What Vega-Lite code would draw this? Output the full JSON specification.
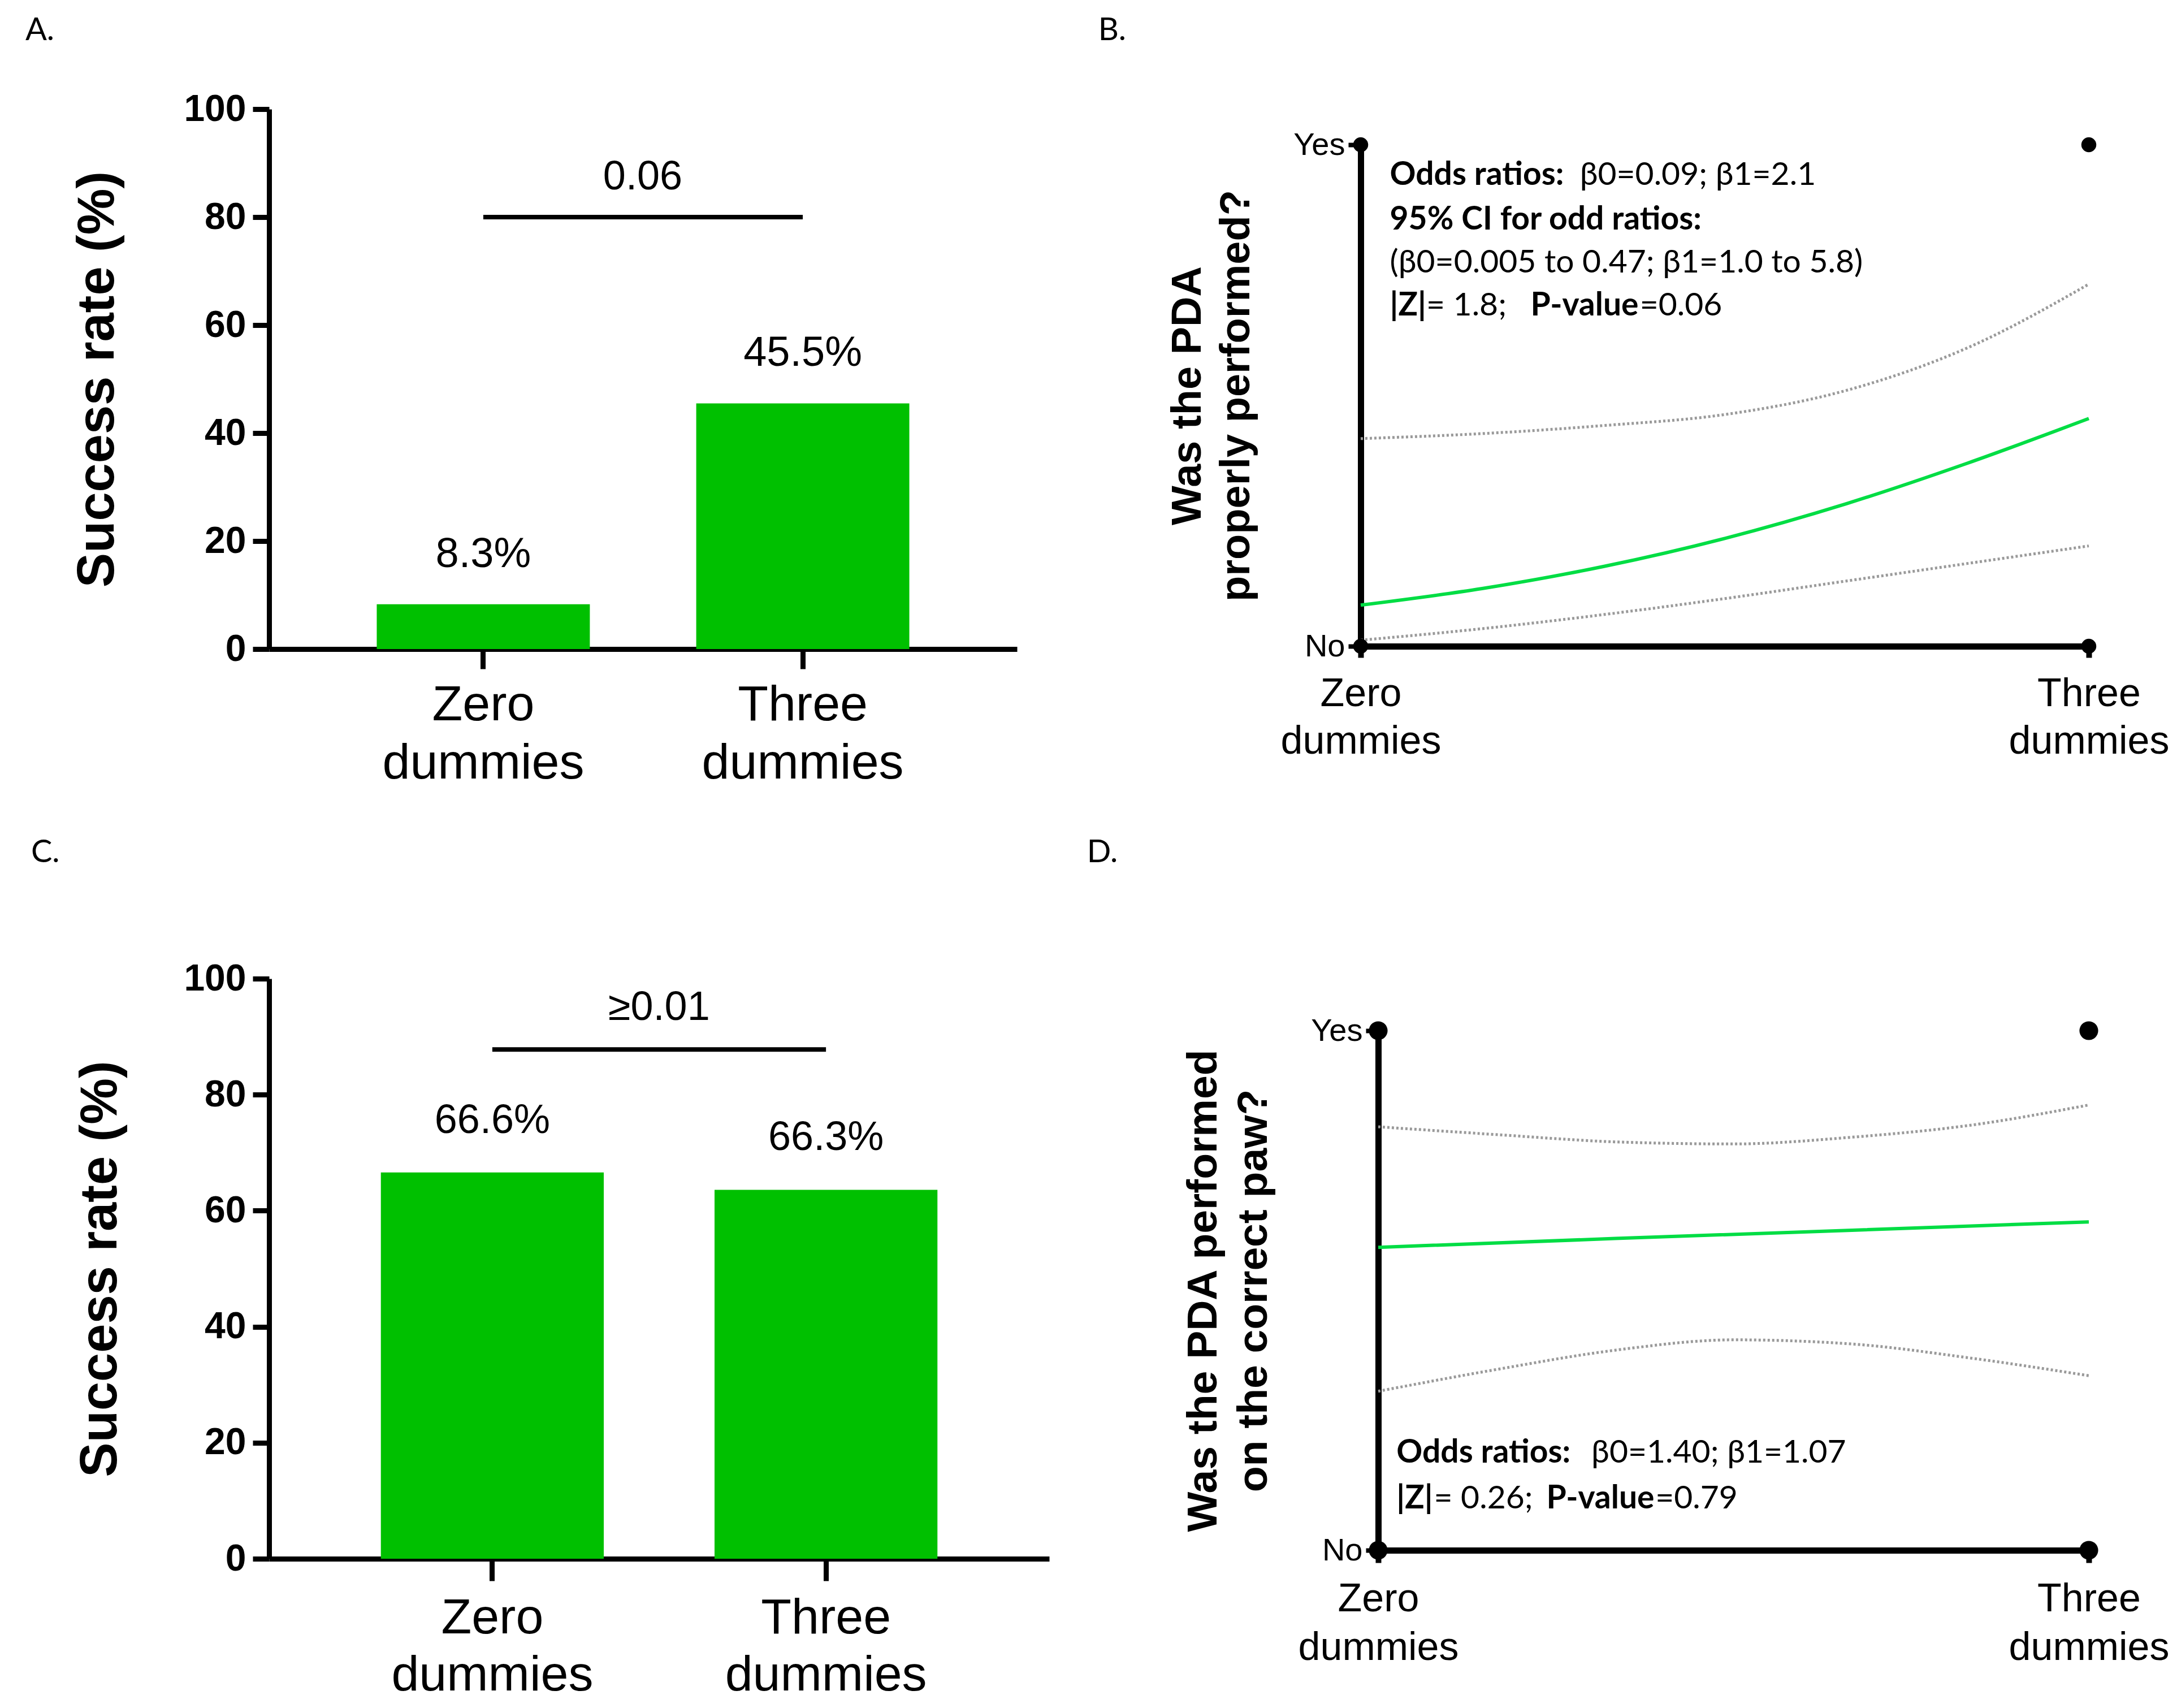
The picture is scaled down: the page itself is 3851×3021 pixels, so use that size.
{
  "$schema": "https://vega.github.io/schema/vega-lite/v6.json",
  "background": "white",
  "padding": {"left": 44, "top": 26, "right": 0, "bottom": 0},
  "config": {
    "view": {"stroke": null},
    "axis": {"grid": false, "domainColor": "black", "tickColor": "black", "labelColor": "black", "titleColor": "black", "labelLimit": 0},
    "title": {"anchor": "start", "frame": "bounds", "font": "Lato", "fontSize": 56, "fontWeight": "normal", "color": "black"}
  },
  "datasets": {
    "barsA": [
      {"group": "Zero dummies", "rate": 8.3, "label": "8.3%"},
      {"group": "Three dummies", "rate": 45.5, "label": "45.5%"}
    ],
    "sigA": [{"from": "Zero dummies", "to": "Three dummies", "y": 80, "ylab": 87.4, "p": "0.06"}],
    "barsC": [
      {"group": "Zero dummies", "rate": 66.6, "label": "66.6%"},
      {"group": "Three dummies", "rate": 63.6, "label": "66.3%"}
    ],
    "sigC": [{"from": "Zero dummies", "to": "Three dummies", "y": 87.8, "ylab": 95.0, "p": "≥0.01"}],
    "ciB": [
      {"x": 0, "y": 0.414, "band": "upper"}, {"x": 0.5, "y": 0.424, "band": "upper"}, {"x": 1, "y": 0.44, "band": "upper"},
      {"x": 1.5, "y": 0.462, "band": "upper"}, {"x": 2, "y": 0.51, "band": "upper"}, {"x": 2.5, "y": 0.595, "band": "upper"},
      {"x": 3, "y": 0.722, "band": "upper"},
      {"x": 0, "y": 0.012, "band": "lower"}, {"x": 0.5, "y": 0.035, "band": "lower"}, {"x": 1, "y": 0.063, "band": "lower"},
      {"x": 1.5, "y": 0.095, "band": "lower"}, {"x": 2, "y": 0.13, "band": "lower"}, {"x": 2.5, "y": 0.165, "band": "lower"},
      {"x": 3, "y": 0.2, "band": "lower"}
    ],
    "fitB": [
      {"x": 0, "y": 0.082}, {"x": 0.5, "y": 0.115}, {"x": 1, "y": 0.159}, {"x": 1.5, "y": 0.215},
      {"x": 2, "y": 0.284}, {"x": 2.5, "y": 0.365}, {"x": 3, "y": 0.454}
    ],
    "ptsB": [{"x": 0, "y": 1}, {"x": 0, "y": 0}, {"x": 3, "y": 1}, {"x": 3, "y": 0}],
    "annB": [
      {"x": 0.12, "y": 0.939, "text": "Odds ratios:", "bold": true},
      {"x": 0.903, "y": 0.939, "text": "β0=0.09; β1=2.1", "bold": false},
      {"x": 0.12, "y": 0.85, "text": "95% CI for odd ratios:", "bold": true},
      {"x": 0.12, "y": 0.764, "text": "(β0=0.005 to 0.47; β1=1.0 to 5.8)", "bold": false},
      {"x": 0.12, "y": 0.679, "text": "|Z|", "bold": true},
      {"x": 0.27, "y": 0.679, "text": "= 1.8;", "bold": false},
      {"x": 0.70, "y": 0.679, "text": "P-value", "bold": true},
      {"x": 1.15, "y": 0.679, "text": "=0.06", "bold": false}
    ],
    "ciD": [
      {"x": 0, "y": 0.815, "band": "upper"}, {"x": 0.5, "y": 0.80, "band": "upper"}, {"x": 1, "y": 0.786, "band": "upper"},
      {"x": 1.5, "y": 0.782, "band": "upper"}, {"x": 2, "y": 0.795, "band": "upper"}, {"x": 2.5, "y": 0.818, "band": "upper"},
      {"x": 3, "y": 0.857, "band": "upper"},
      {"x": 0, "y": 0.306, "band": "lower"}, {"x": 0.5, "y": 0.348, "band": "lower"}, {"x": 1, "y": 0.385, "band": "lower"},
      {"x": 1.5, "y": 0.405, "band": "lower"}, {"x": 2, "y": 0.397, "band": "lower"}, {"x": 2.5, "y": 0.37, "band": "lower"},
      {"x": 3, "y": 0.336, "band": "lower"}
    ],
    "fitD": [{"x": 0, "y": 0.583}, {"x": 1, "y": 0.6}, {"x": 2, "y": 0.616}, {"x": 3, "y": 0.632}],
    "ptsD": [{"x": 0, "y": 1}, {"x": 0, "y": 0}, {"x": 3, "y": 1}, {"x": 3, "y": 0}],
    "annD": [
      {"x": 0.077, "y": 0.187, "text": "Odds ratios:", "bold": true},
      {"x": 0.90, "y": 0.187, "text": "β0=1.40; β1=1.07", "bold": false},
      {"x": 0.077, "y": 0.099, "text": "|Z|", "bold": true},
      {"x": 0.235, "y": 0.099, "text": "= 0.26;", "bold": false},
      {"x": 0.71, "y": 0.099, "text": "P-value", "bold": true},
      {"x": 1.17, "y": 0.099, "text": "=0.79", "bold": false}
    ]
  },
  "spacing": 86,
  "vconcat": [
    {
      "spacing": 143,
      "align": "none",
      "hconcat": [
        {
          "width": 1323, "height": 955,
          "title": {"text": "A.", "dx": -82, "offset": 77},
          "encoding": {
            "x": {"field": "group", "type": "nominal",
              "scale": {"domain": ["Zero dummies", "Three dummies"], "paddingInner": 0.333, "paddingOuter": 0.337},
              "axis": {"title": null, "labelAngle": 0, "labelExpr": "split(datum.label, ' ')", "labelFont": "Liberation Sans", "labelFontSize": 88, "labelLineHeight": 103, "tickSize": 35, "tickWidth": 9, "domainWidth": 9, "labelPadding": 20}}
          },
          "layer": [
            {"data": {"name": "barsA"}, "mark": {"type": "bar", "color": "#00C000"},
             "encoding": {"y": {"field": "rate", "type": "quantitative", "scale": {"domain": [0, 100], "nice": false},
               "axis": {"title": "Success rate (%)", "values": [0, 20, 40, 60, 80, 100], "labelFont": "Liberation Sans", "labelFontWeight": "bold", "labelFontSize": 66, "titleFont": "Liberation Sans", "titleFontSize": 92, "titleFontWeight": "bold", "tickSize": 29, "tickWidth": 9, "domainWidth": 9, "labelPadding": 12, "titlePadding": 105}}}},
            {"data": {"name": "barsA"}, "mark": {"type": "text", "baseline": "bottom", "dy": -50, "font": "Liberation Sans", "fontSize": 74, "color": "black"},
             "encoding": {"y": {"field": "rate", "type": "quantitative"}, "text": {"field": "label"}}},
            {"data": {"name": "sigA"}, "mark": {"type": "rule", "strokeWidth": 8, "color": "black"},
             "encoding": {"x": {"field": "from", "type": "nominal"}, "x2": {"field": "to"}, "y": {"field": "y", "type": "quantitative"}}},
            {"data": {"name": "sigA"}, "mark": {"type": "text", "dx": 282, "baseline": "middle", "font": "Liberation Sans", "fontSize": 72, "color": "black"},
             "encoding": {"x": {"field": "from", "type": "nominal"}, "y": {"field": "ylab", "type": "quantitative"}, "text": {"field": "p"}}}
          ]
        },
        {
          "width": 1288, "height": 950,
          "title": {"text": "B.", "dx": -122, "offset": 110},
          "encoding": {
            "x": {"field": "x", "type": "quantitative", "scale": {"domain": [0, 3], "nice": false, "zero": false},
              "axis": {"title": null, "values": [0, 3], "labelFlush": false, "labelExpr": "datum.value == 0 ? ['Zero', 'dummies'] : ['Three', 'dummies']", "labelFont": "Liberation Sans", "labelFontSize": 70, "labelLineHeight": 84, "tickSize": 20, "tickWidth": 10, "domainWidth": 11, "labelPadding": 30}},
            "y": {"field": "y", "type": "quantitative", "scale": {"domain": [0, 1], "nice": false, "range": [950, 63]},
              "axis": {"title": ["Was the PDA", "properly performed?"], "values": [0, 1], "labelFlush": false, "labelExpr": "datum.value == 1 ? 'Yes' : 'No'", "labelFont": "Liberation Sans", "labelFontSize": 56, "tickSize": 22, "tickWidth": 8, "domainWidth": 11, "labelPadding": 6, "titleFont": "Liberation Sans", "titleFontSize": 74, "titleFontWeight": "bold", "titleLineHeight": 86, "titlePadding": 62}}
          },
          "layer": [
            {"data": {"name": "ciB"}, "mark": {"type": "line", "color": "#9a9a9a", "strokeWidth": 5, "strokeDash": [4, 4], "interpolate": "monotone"},
             "encoding": {"detail": {"field": "band"}}},
            {"data": {"name": "fitB"}, "mark": {"type": "line", "color": "#00DD44", "strokeWidth": 6, "interpolate": "monotone"}},
            {"data": {"name": "ptsB"}, "mark": {"type": "circle", "color": "black", "opacity": 1, "size": 700}},
            {"data": {"name": "annB"}, "transform": [{"filter": "datum.bold"}],
             "mark": {"type": "text", "align": "left", "baseline": "middle", "font": "Lato", "fontSize": 57, "fontWeight": "bold", "color": "black"},
             "encoding": {"text": {"field": "text"}}},
            {"data": {"name": "annB"}, "transform": [{"filter": "!datum.bold"}],
             "mark": {"type": "text", "align": "left", "baseline": "middle", "font": "Lato", "fontSize": 57, "fontWeight": "normal", "color": "black"},
             "encoding": {"text": {"field": "text"}}}
          ]
        }
      ]
    },
    {
      "spacing": 66,
      "align": "none",
      "hconcat": [
        {
          "width": 1380, "height": 1026,
          "title": {"text": "C.", "dx": -77, "offset": 161},
          "encoding": {
            "x": {"field": "group", "type": "nominal",
              "scale": {"domain": ["Zero dummies", "Three dummies"], "paddingInner": 0.332, "paddingOuter": 0.335},
              "axis": {"title": null, "labelAngle": 0, "labelExpr": "split(datum.label, ' ')", "labelFont": "Liberation Sans", "labelFontSize": 88, "labelLineHeight": 101, "tickSize": 39, "tickWidth": 9, "domainWidth": 9, "labelPadding": 22}}
          },
          "layer": [
            {"data": {"name": "barsC"}, "mark": {"type": "bar", "color": "#00C000"},
             "encoding": {"y": {"field": "rate", "type": "quantitative", "scale": {"domain": [0, 100], "nice": false},
               "axis": {"title": "Success rate (%)", "values": [0, 20, 40, 60, 80, 100], "labelFont": "Liberation Sans", "labelFontWeight": "bold", "labelFontSize": 66, "titleFont": "Liberation Sans", "titleFontSize": 92, "titleFontWeight": "bold", "tickSize": 29, "tickWidth": 9, "domainWidth": 9, "labelPadding": 12, "titlePadding": 100}}}},
            {"data": {"name": "barsC"}, "mark": {"type": "text", "baseline": "bottom", "dy": -55, "font": "Liberation Sans", "fontSize": 72, "color": "black"},
             "encoding": {"y": {"field": "rate", "type": "quantitative"}, "text": {"field": "label"}}},
            {"data": {"name": "sigC"}, "mark": {"type": "rule", "strokeWidth": 8, "color": "black"},
             "encoding": {"x": {"field": "from", "type": "nominal"}, "x2": {"field": "to"}, "y": {"field": "y", "type": "quantitative"}}},
            {"data": {"name": "sigC"}, "mark": {"type": "text", "dx": 295, "baseline": "middle", "font": "Liberation Sans", "fontSize": 72, "color": "black"},
             "encoding": {"x": {"field": "from", "type": "nominal"}, "y": {"field": "ylab", "type": "quantitative"}, "text": {"field": "p"}}}
          ]
        },
        {
          "width": 1257, "height": 1011,
          "title": {"text": "D.", "dx": -169, "offset": 194},
          "encoding": {
            "x": {"field": "x", "type": "quantitative", "scale": {"domain": [0, 3], "nice": false, "zero": false},
              "axis": {"title": null, "values": [0, 3], "labelFlush": false, "labelExpr": "datum.value == 0 ? ['Zero', 'dummies'] : ['Three', 'dummies']", "labelFont": "Liberation Sans", "labelFontSize": 70, "labelLineHeight": 86, "tickSize": 22, "tickWidth": 10, "domainWidth": 11, "labelPadding": 30}},
            "y": {"field": "y", "type": "quantitative", "scale": {"domain": [0, 1], "nice": false, "range": [1011, 92]},
              "axis": {"title": ["Was the PDA performed", "on the correct paw?"], "values": [0, 1], "labelFlush": false, "labelExpr": "datum.value == 1 ? 'Yes' : 'No'", "labelFont": "Liberation Sans", "labelFontSize": 56, "tickSize": 22, "tickWidth": 8, "domainWidth": 11, "labelPadding": 6, "titleFont": "Liberation Sans", "titleFontSize": 75, "titleFontWeight": "bold", "titleLineHeight": 89, "titlePadding": 62}}
          },
          "layer": [
            {"data": {"name": "ciD"}, "mark": {"type": "line", "color": "#9a9a9a", "strokeWidth": 5, "strokeDash": [4, 4], "interpolate": "monotone"},
             "encoding": {"detail": {"field": "band"}}},
            {"data": {"name": "fitD"}, "mark": {"type": "line", "color": "#00DD44", "strokeWidth": 6}},
            {"data": {"name": "ptsD"}, "mark": {"type": "circle", "color": "black", "opacity": 1, "size": 1100}},
            {"data": {"name": "annD"}, "transform": [{"filter": "datum.bold"}],
             "mark": {"type": "text", "align": "left", "baseline": "middle", "font": "Lato", "fontSize": 57, "fontWeight": "bold", "color": "black"},
             "encoding": {"text": {"field": "text"}}},
            {"data": {"name": "annD"}, "transform": [{"filter": "!datum.bold"}],
             "mark": {"type": "text", "align": "left", "baseline": "middle", "font": "Lato", "fontSize": 57, "fontWeight": "normal", "color": "black"},
             "encoding": {"text": {"field": "text"}}}
          ]
        }
      ]
    }
  ]
}
